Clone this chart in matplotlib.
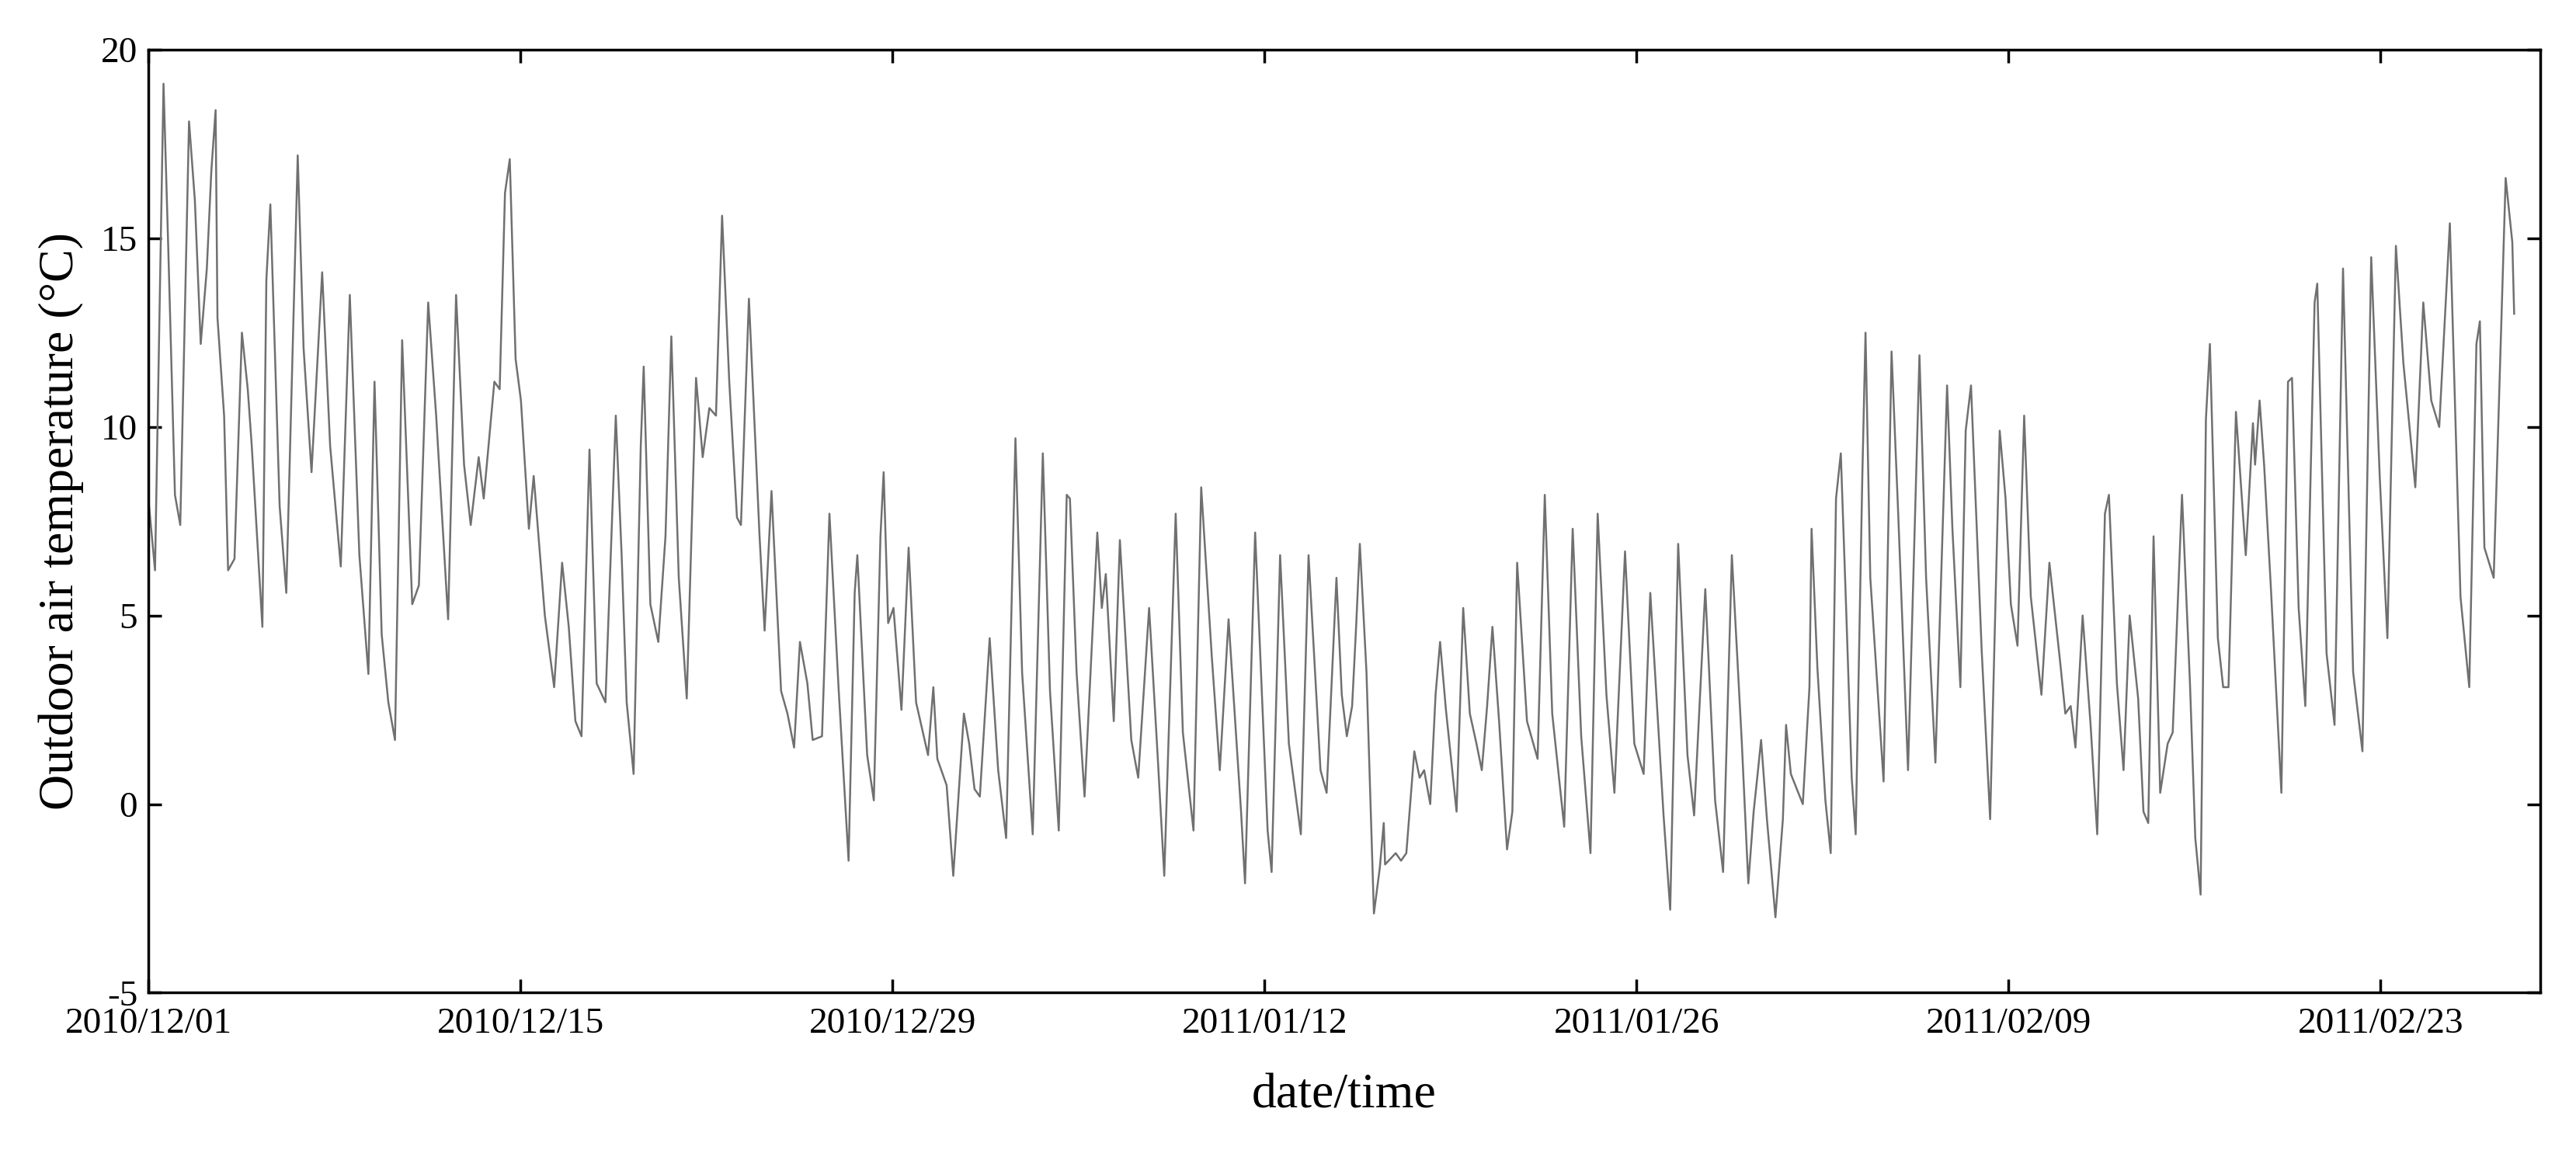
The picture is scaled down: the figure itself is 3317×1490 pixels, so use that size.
import matplotlib
matplotlib.use("Agg")
import matplotlib.pyplot as plt
import pandas as pd

start = "2010-12-01"
day_offset = [0, 0.25, 0.57, 0.75, 1.0, 1.2, 1.53, 1.75, 1.97, 2.2, 2.37, 2.53, 2.6, 2.85, 3.0, 3.24, 3.52, 3.74, 3.89, 4.29,
    4.44, 4.59, 4.94, 5.19, 5.62, 5.84, 6.14, 6.54, 6.84, 7.24, 7.58, 7.94, 8.28, 8.51, 8.78, 9.03, 9.28, 9.55, 9.93, 10.18,
    10.53, 10.83, 11.28, 11.58, 11.88, 12.13, 12.43, 12.62, 13.02, 13.22, 13.42, 13.6, 13.82, 14.02, 14.32, 14.5, 14.92, 15.27,
    15.57, 15.82, 16.07, 16.3, 16.6, 16.87, 17.2, 17.59, 17.81, 18.0, 18.26, 18.53, 18.64, 18.89, 19.19, 19.46, 19.68, 19.96,
    20.26, 20.61, 20.86, 21.11, 21.36, 21.59, 21.86, 22.15, 22.3, 22.6, 23.0, 23.19, 23.45, 23.81, 24.05, 24.3, 24.52, 24.8,
    25.0, 25.35, 25.63, 25.98, 26.35, 26.58, 26.68, 27.05, 27.3, 27.55, 27.67, 27.84, 28.04, 28.34, 28.61, 28.89, 29.34, 29.54,
    29.69, 30.04, 30.29, 30.69, 30.89, 31.09, 31.29, 31.66, 31.98, 32.28, 32.63, 32.88, 33.28, 33.66, 33.93, 34.26, 34.56,
    34.68, 34.93, 35.23, 35.71, 35.88, 36.03, 36.33, 36.56, 36.99, 37.25, 37.66, 37.98, 38.23, 38.66, 38.93, 39.33, 39.62,
    40.02, 40.32, 40.65, 41.12, 41.27, 41.65, 42.12, 42.27, 42.59, 42.92, 43.37, 43.66, 44.11, 44.34, 44.71, 44.91, 45.1,
    45.3, 45.45, 45.59, 45.84, 46.12, 46.34, 46.49, 46.54, 46.94, 47.14, 47.34, 47.64, 47.84, 48.01, 48.24, 48.44, 48.61,
    48.83, 49.23, 49.48, 49.73, 49.98, 50.18, 50.38, 50.58, 50.83, 51.13, 51.33, 51.51, 51.88, 52.28, 52.55, 52.83, 53.28,
    53.6, 53.92, 54.27, 54.54, 54.87, 55.17, 55.57, 55.92, 56.27, 56.52, 57.02, 57.27, 57.57, 57.92, 58.17, 58.59, 58.96,
    59.26, 59.59, 59.96, 60.21, 60.41, 60.56, 60.69, 60.91, 61.23, 61.51, 61.63, 61.81, 62.26, 62.51, 62.59, 62.81, 63.11,
    63.31, 63.51, 63.69, 63.9, 64.1, 64.25, 64.5, 64.62, 64.8, 65.3, 65.6, 65.85, 66.22, 66.65, 66.9, 67.25, 67.69, 67.89,
    68.19, 68.39, 68.59, 68.99, 69.31, 69.67, 69.89, 70.09, 70.34, 70.59, 70.84, 71.24, 71.54, 71.94, 72.14, 72.34, 72.52,
    72.79, 73.09, 73.34, 73.63, 73.78, 74.08, 74.33, 74.56, 74.88, 75.08, 75.26, 75.46, 75.71, 75.99, 76.18, 76.28, 76.53,
    76.83, 77.03, 77.23, 77.43, 77.58, 77.88, 78.08, 78.28, 78.56, 78.93, 79.2, 79.28, 79.45, 79.62, 79.87, 80.27, 80.52,
    80.67, 80.92, 81.17, 81.52, 81.62, 81.97, 82.27, 82.59, 82.97, 83.32, 83.65, 83.97, 84.26, 84.58, 84.86, 85.31, 85.61,
    85.91, 86.21, 86.61, 87.01, 87.34, 87.61, 87.74, 87.91, 88.26, 88.71, 88.96, 89.03]
temperature = [8.1, 6.2, 19.1, 14.7, 8.2, 7.4, 18.1, 16.0, 12.2, 14.2, 16.8, 18.4, 12.9, 10.3, 6.2, 6.5, 12.5, 11.0, 9.5, 4.7,
    13.9, 15.9, 7.9, 5.6, 17.2, 12.1, 8.8, 14.1, 9.5, 6.3, 13.5, 6.6, 3.45, 11.2, 4.5, 2.7, 1.7, 12.3, 5.3, 5.8,
    13.3, 10.3, 4.9, 13.5, 9.0, 7.4, 9.2, 8.1, 11.2, 11.0, 16.2, 17.1, 11.8, 10.7, 7.3, 8.7, 5.0, 3.1,
    6.4, 4.7, 2.2, 1.8, 9.4, 3.2, 2.7, 10.3, 6.6, 2.7, 0.8, 9.5, 11.6, 5.3, 4.3, 7.1, 12.4, 6.0,
    2.8, 11.3, 9.2, 10.5, 10.3, 15.6, 11.2, 7.6, 7.4, 13.4, 7.1, 4.6, 8.3, 3.0, 2.4, 1.5, 4.3, 3.2,
    1.7, 1.8, 7.7, 3.0, -1.5, 5.6, 6.6, 1.3, 0.1, 7.1, 8.8, 4.8, 5.2, 2.5, 6.8, 2.7, 1.3, 3.1,
    1.2, 0.5, -1.9, 2.4, 1.6, 0.4, 0.2, 4.4, 0.9, -0.9, 9.7, 3.5, -0.8, 9.3, 3.0, -0.7, 8.2,
    8.1, 3.5, 0.2, 7.2, 5.2, 6.1, 2.2, 7.0, 1.7, 0.7, 5.2, 1.3, -1.9, 7.7, 1.9, -0.7, 8.4,
    3.9, 0.9, 4.9, -0.2, -2.1, 7.2, -0.7, -1.8, 6.6, 1.6, -0.8, 6.6, 0.9, 0.3, 6.0, 2.9, 1.8,
    2.6, 4.7, 6.9, 3.5, -2.9, -1.7, -0.5, -1.6, -1.3, -1.5, -1.3, 1.4, 0.7, 0.9, 0.0, 2.9, 4.3,
    2.5, -0.2, 5.2, 2.4, 1.6, 0.9, 2.6, 4.7, 2.2, -1.2, -0.2, 6.4, 2.2, 1.2, 8.2, 2.4, -0.6,
    7.3, 1.8, -1.3, 7.7, 2.9, 0.3, 6.7, 1.6, 0.8, 5.6, -0.3, -2.8, 6.9, 1.3, -0.3, 5.7, 0.1,
    -1.8, 6.6, 1.7, -2.1, -0.2, 0.8, 1.7, -0.4, -3.0, -0.4, 2.1, 0.8, 0.0, 3.1, 7.3, 3.6, 0.1,
    -1.3, 8.1, 9.3, 5.0, 0.7, -0.8, 8.7, 12.5, 6.0, 0.6, 12.0, 7.7, 0.9, 11.9, 6.0, 1.1, 11.1, 7.3,
    3.1, 9.9, 11.1, 4.1, -0.4, 9.9, 8.1, 5.3, 4.2, 10.3, 5.5, 2.9, 6.4, 3.8, 2.4, 2.6, 1.5,
    5.0, 2.1, -0.8, 7.7, 8.2, 3.2, 0.9, 5.0, 2.8, -0.2, -0.5, 7.1, 0.3, 1.6, 1.9, 3.7, 8.2,
    3.2, -0.9, -2.4, 10.2, 12.2, 4.4, 3.1, 3.1, 10.4, 6.6, 10.1, 9.0, 10.7, 9.0, 5.8, 0.3, 11.2,
    11.3, 5.2, 2.6, 13.3, 13.8, 4.0, 2.1, 14.2, 3.5, 1.4, 14.5, 8.7, 4.4, 14.8, 11.7, 8.4, 13.3,
    10.7, 10.0, 15.4, 5.5, 3.1, 12.2, 12.8, 6.8, 6.0, 16.6, 14.9, 13.0]
tick_labels = ["2010/12/01", "2010/12/15", "2010/12/29", "2011/01/12", "2011/01/26", "2011/02/09", "2011/02/23"]

times = pd.Timestamp(start) + pd.to_timedelta(day_offset, unit="D")
tick_dates = pd.to_datetime(tick_labels, format="%Y/%m/%d")

plt.rcParams["font.family"] = ["Liberation Serif", "DejaVu Serif"]
plt.rcParams["axes.unicode_minus"] = False
fig = plt.figure(figsize=(33.17, 14.90), dpi=100)
ax = fig.add_axes([0.0576, 0.142, 0.9284, 0.815])
ax.plot(times, temperature, color="#707070", lw=1.8)
ax.set_xlim(pd.Timestamp(start), pd.Timestamp("2011-03-01"))
ax.set_ylim(-5, 20)
ax.set_yticks([-5, 0, 5, 10, 15, 20])
ax.set_xticks(tick_dates)
ax.set_xticklabels(tick_labels)
ax.tick_params(direction="in", length=12, width=2.5, labelsize=34, top=True, right=True)
ax.tick_params(axis="x", pad=14)
ax.tick_params(axis="y", pad=10)
for s in ax.spines.values():
    s.set_linewidth(2.5)
ax.set_xlabel("date/time", fontsize=46, labelpad=30)
ax.set_ylabel("Outdoor air temperature (°C)", fontsize=46, labelpad=16)
fig.savefig("out.png", dpi=100)
